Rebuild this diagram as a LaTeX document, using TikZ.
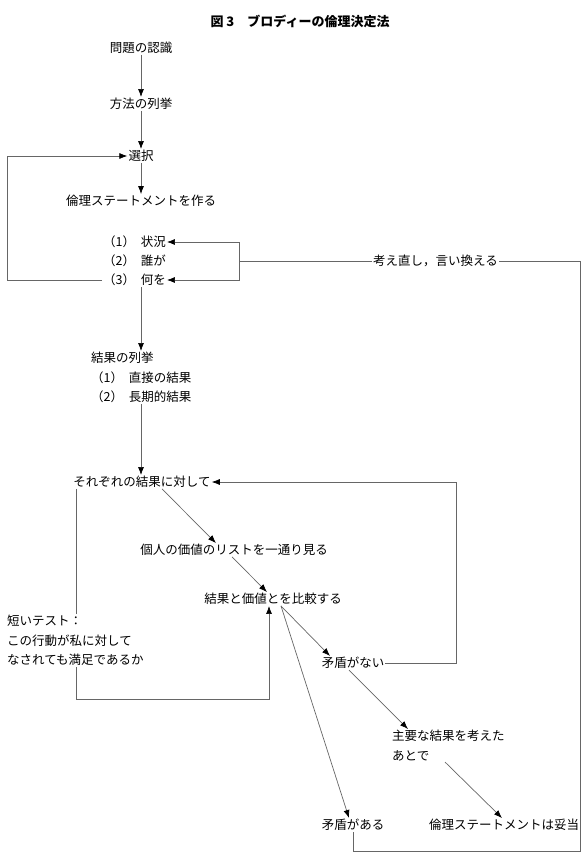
\documentclass[tikz,border=0pt]{standalone}
\usepackage{fontspec}
\setmainfont{Noto Sans CJK JP}
\usetikzlibrary{arrows.meta}

\begin{document}
\begin{tikzpicture}[x=1pt,y=-1pt,
  txt/.style={inner sep=1pt,font=\fontsize{12.5}{19.5}\selectfont},
  ln/.style={draw=black!60,line width=0.7pt},
  arr/.style={ln,-{Latex[length=8pt,width=6pt,black]}}]
\useasboundingbox (0,0) rectangle (585,854);
\coordinate (col) at (141,0);
\coordinate (bx) at (239,0);
\coordinate (rx) at (580,0);
\coordinate (tx) at (76,0);
\node[font=\bfseries\fontsize{13}{15}\selectfont] (title) at (300,21) {図 3　ブロディーの倫理決定法};
\node[txt] (prob) at (141,48) {問題の認識};
\node[txt] (meth) at (141,104) {方法の列挙};
\node[txt] (sel) at (141,156) {選択};
\node[txt] (stmt) at (141,201) {倫理ステートメントを作る};
\node[txt,anchor=west] (sit) at (102,242) {（1）\hspace{.45em}状況};
\node[txt,anchor=west] (who) at (102,261) {（2）\hspace{.45em}誰が};
\node[txt,anchor=west] (what) at (102,280) {（3）\hspace{.45em}何を};
\node[txt,anchor=west] (redo) at (372,261) {考え直し，言い換える};
\node[txt,anchor=north west,align=left] (cons) at (90,351) {結果の列挙\\（1）\hspace{.45em}直接の結果\\（2）\hspace{.45em}長期的結果};
\node[txt] (each) at (142,482) {それぞれの結果に対して};
\node[txt] (look) at (234,550) {個人の価値のリストを一通り見る};
\node[txt] (cmp) at (273,599) {結果と価値とを比較する};
\node[txt,anchor=north west,align=left] (test) at (6,614) {短いテスト：\\この行動が私に対して\\なされても満足であるか};
\node[txt] (no) at (353,663) {矛盾がない};
\node[txt,anchor=north west,align=left] (major) at (391,729) {主要な結果を考えた\\あとで};
\node[txt] (yes) at (353,825) {矛盾がある};
\node[txt] (valid) at (504,825) {倫理ステートメントは妥当};
% main column
\draw[arr] (prob) -- (meth);
\draw[arr] (meth) -- (sel);
\draw[arr] (sel) -- (stmt);
\draw[arr] (what.west) -- ++(-95,0) |- (sel.west);
\draw[arr] (what.south -| col) -- (cons.north -| col);
\draw[arr] (cons.south -| col) -- (each.north -| col);
% rephrase loop
\draw[ln] (redo.west) -- (redo.west -| bx);
\draw[arr] (redo.west -| bx) |- (sit.east);
\draw[arr] (redo.west -| bx) |- (what.east);
% comparison
\draw[arr] ([xshift=20]each.south) -- ([xshift=-18]look.north);
\draw[arr] ([xshift=-2]look.south) -- ([xshift=-6]cmp.north);
\draw[ln] (each.south -| tx) -- (test.north -| tx);
\draw[arr] (test.south -| tx) -- ++(0,32) -| ([xshift=-4]cmp.south);
\draw[arr] ([xshift=8]cmp.south) -- ([xshift=-23]no.north);
\draw[arr] ([xshift=8]cmp.south) -- ([xshift=-4]yes.north);
\draw[arr] (no.east) -- ++(71,0) |- (each.east);
\draw[arr] ([xshift=-4]no.south) -- ([xshift=17]major.north west);
\draw[arr] ([xshift=54]major.south west) -- ([xshift=-2]valid.north);
\draw[ln] (yes.south) -- ++(0,19) -| (rx |- redo.east) -- (redo.east);
\end{tikzpicture}
\end{document}
